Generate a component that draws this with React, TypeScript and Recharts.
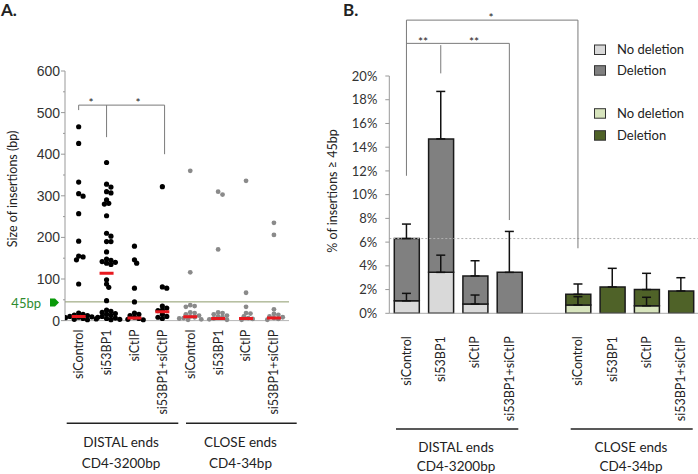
import React from 'react';
import {
  ScatterChart, Scatter, XAxis, YAxis, ReferenceLine,
  ComposedChart, Bar, Cell, ErrorBar,
} from 'recharts';

// ---------------- Panel A data ----------------
const groupNames = ['siControl', 'si53BP1', 'siCtIP', 'si53BP1+siCtIP'];
const panelACategories = [...groupNames, ...groupNames];

const distalSiControl = [466, 426, 333, 305, 299, 257, 191, 155, 153, 146, 88, 18, 15, 13, 12, 10, 9, 8, 7, 5, 4, 3, 2];
const distalSi53BP1 = [380, 328, 321, 310, 307, 290, 282, 280, 252, 210, 203, 190, 190, 165, 148, 145, 142, 140, 138, 135, 98, 88, 80, 48, 25, 22, 20, 17, 15, 12, 10, 8, 6, 5, 3, 2];
const distalSiCtIP = [179, 146, 138, 78, 45, 18, 15, 12, 8, 5, 3, 2];
const distalCombo = [322, 81, 78, 35, 30, 25, 24, 15, 10, 8, 5];
const closeSiControl = [360, 116, 37, 35, 33, 20, 18, 15, 12, 10, 8, 6, 5, 3, 2];
const closeSi53BP1 = [310, 303, 171, 20, 18, 15, 12, 10, 8, 5, 3, 2];
const closeSiCtIP = [336, 67, 33, 18, 17, 10, 6, 4, 2];
const closeCombo = [235, 206, 27, 16, 14, 10, 8, 6, 4, 2];
const panelAMedians = [10, 114, 6, 21, 9, 5, 5, 6];
const panelATicks = [0, 50, 100, 150, 200, 250, 300, 350, 400, 450, 500, 550, 600];
const thresholdBp = 45;

// ---------------- Panel B data ----------------
const panelBKeys = ['d0', 'd1', 'd2', 'd3', 'gap', 'c0', 'c1', 'c2', 'c3'];
const panelBLabels = ['siControl', 'si53BP1', 'siCtIP', 'si53BP1+siCtIP', '', 'siControl', 'si53BP1', 'siCtIP', 'si53BP1+siCtIP'];
const noDeletion = [1.05, 3.45, 0.78, 0, null, 0.7, 0, 0.64, 0];
const deletion = [5.25, 11.25, 2.37, 3.45, null, 0.9, 2.22, 1.36, 1.88];
const totalError = [1.22, 4.0, 1.28, 3.45, null, 0.87, 1.57, 1.37, 1.12];
const noDeletionError = [0.63, 1.45, 0.76, null, null, 0.7, null, 0.71, null];
const panelBTicks = [0, 2, 4, 6, 8, 10, 12, 14, 16, 18, 20];
const referenceLevel = 6.3;
const legendLabels = ['No deletion', 'Deletion', 'No deletion', 'Deletion'];

// ---------------- styles ----------------
const LIGHT_GRAY = '#d9d9d9';
const DARK_GRAY = '#808080';
const LIGHT_GREEN = '#d7e4bd';
const DARK_GREEN = '#4f6228';
const legendColors = [LIGHT_GRAY, DARK_GRAY, LIGHT_GREEN, DARK_GREEN];
const FONT = 'Lato, "Open Sans", sans-serif';

// Panel A geometry (for beeswarm spacing)
const A_TOP = 71;
const A_BOTTOM = 320.6;
const A_AXIS = 65;
const A_RIGHT = 289;
const A_DOMAIN: [number, number] = [-0.49, 7.54];
const pxPerY = (A_BOTTOM - A_TOP) / 600;
const pxPerX = (A_RIGHT - A_AXIS) / (A_DOMAIN[1] - A_DOMAIN[0]);

function swarm(values: number[], idx: number) {
  const placed: { x: number; y: number }[] = [];
  const out: { x: number; y: number }[] = [];
  const sorted = [...values].sort((a, b) => b - a);
  const step = 2.2;
  const minD = 3.8;
  for (const v of sorted) {
    const py = v * pxPerY;
    let chosen = 0;
    for (let k = 0; k < 60; k++) {
      const off = k === 0 ? 0 : (k % 2 === 1 ? 1 : -1) * Math.ceil(k / 2) * step;
      const ok = placed.every((p) => (p.x - off) ** 2 + (p.y - py) ** 2 >= minD * minD);
      if (ok) { chosen = off; break; }
    }
    placed.push({ x: chosen, y: py });
    out.push({ x: idx + chosen / pxPerX, y: v });
  }
  return out;
}

const distalPoints = [distalSiControl, distalSi53BP1, distalSiCtIP, distalCombo].flatMap((vals, i) => swarm(vals, i));
const closePoints = [closeSiControl, closeSi53BP1, closeSiCtIP, closeCombo].flatMap((vals, i) => swarm(vals, i + 4));
const medianPoints = panelAMedians.map((m, i) => ({ x: i, y: m }));

const rowsB = panelBKeys.map((key, i) => ({
  key,
  label: panelBLabels[i],
  noDel: noDeletion[i],
  del: deletion[i],
  total: noDeletion[i] == null ? null : (noDeletion[i] as number) + (deletion[i] as number),
  totalErr: totalError[i] == null ? null : [0, totalError[i]],
  noDelErr: noDeletionError[i] == null ? null : [0, noDeletionError[i]],
}));

// ---------------- tick components ----------------
const ATickY = (props: any) => {
  const { x, y, payload } = props;
  const v = payload.value;
  const major = v % 100 === 0;
  return (
    <g>
      <line x1={major ? x + 1 : x + 3} x2={x + 5} y1={y} y2={y} stroke="#999" strokeWidth={1} />
      {major && (
        <text x={x} y={y} dy="0.35em" textAnchor="end" fontSize={14} fontFamily='"Liberation Sans", Arial, sans-serif' fill="#333">
          {v}
        </text>
      )}
    </g>
  );
};

const ATickX = (props: any) => {
  const { x, y, payload } = props;
  const label = panelACategories[payload.value] ?? '';
  return (
    <text transform={`rotate(-90 ${x} ${y})`} x={x} y={y} dy="0.35em" textAnchor="end" fontSize={12.5} fontFamily={FONT} fill="#222">
      {label}
    </text>
  );
};

const BTickX = (props: any) => {
  const { x, y, payload } = props;
  const i = panelBKeys.indexOf(payload.value);
  const label = i >= 0 ? panelBLabels[i] : '';
  return (
    <text transform={`rotate(-90 ${x} ${y})`} x={x} y={y} dy="0.35em" textAnchor="end" fontSize={12.5} fontFamily={FONT} fill="#222">
      {label}
    </text>
  );
};

const blackDot = (p: any) => <circle cx={p.cx} cy={p.cy} r={2.6} fill="#000" />;
const grayDot = (p: any) => <circle cx={p.cx} cy={p.cy} r={2.4} fill="#8a8a8a" />;
const medianMark = (p: any) => (
  <line x1={p.cx - 7} x2={p.cx + 7} y1={p.cy} y2={p.cy} stroke="#e8191f" strokeWidth={3} />
);
const noShape = () => <g />;

const bracketStroke = '#7a7a7a';

function PanelA() {
  return (
    <ScatterChart
      width={320}
      height={474}
      margin={{ top: A_TOP, right: 320 - A_RIGHT, left: 0, bottom: 474 - A_BOTTOM - 100 }}
    >
      <XAxis
        type="number"
        dataKey="x"
        domain={A_DOMAIN}
        ticks={[0, 1, 2, 3, 4, 5, 6, 7]}
        interval={0}
        allowDataOverflow
        height={100}
        tickLine={false}
        tickSize={0}
        tickMargin={9}
        axisLine={{ stroke: '#b5b5b5' }}
        tick={<ATickX />}
      />
      <YAxis
        type="number"
        dataKey="y"
        domain={[0, 600]}
        ticks={panelATicks}
        interval={0}
        width={A_AXIS}
        tickLine={false}
        tickSize={4}
        tickMargin={1}
        axisLine={{ stroke: '#999' }}
        tick={<ATickY />}
      />
      <ReferenceLine y={thresholdBp} stroke="#8c9a6a" strokeWidth={1} />
      <Scatter data={distalPoints} shape={blackDot} isAnimationActive={false} />
      <Scatter data={closePoints} shape={grayDot} isAnimationActive={false} />
      <Scatter data={medianPoints} shape={medianMark} isAnimationActive={false} />
      {/* significance brackets */}
      <ReferenceLine segment={[{ x: 0, y: 518 }, { x: 3.08, y: 518 }]} stroke={bracketStroke} />
      <ReferenceLine segment={[{ x: 0, y: 518 }, { x: 0, y: 506 }]} stroke={bracketStroke} />
      <ReferenceLine segment={[{ x: 1, y: 518 }, { x: 1, y: 441 }]} stroke={bracketStroke} />
      <ReferenceLine segment={[{ x: 3.08, y: 518 }, { x: 3.08, y: 400 }]} stroke={bracketStroke} />
    </ScatterChart>
  );
}

function PanelB() {
  return (
    <ComposedChart
      width={378}
      height={474}
      data={rowsB}
      margin={{ top: 76, right: 0, left: 0, bottom: 474 - 313.3 - 110 }}
      barSize={25}
    >
      <XAxis
        dataKey="key"
        type="category"
        height={110}
        interval={0}
        tickLine={false}
        tickSize={0}
        tickMargin={23}
        axisLine={{ stroke: '#aaa' }}
        tick={<BTickX />}
      />
      <YAxis
        type="number"
        domain={[0, 20]}
        ticks={panelBTicks}
        interval={0}
        width={69.3}
        tickSize={4}
        tickMargin={8}
        tickLine={{ stroke: '#999' }}
        axisLine={{ stroke: '#999' }}
        tickFormatter={(v: number) => `${v}%`}
        tick={{ fontSize: 13, fill: '#333', fontFamily: FONT }}
      />
      <ReferenceLine y={referenceLevel} stroke="#b0b0b0" strokeDasharray="2 2" />
      <Bar dataKey="noDel" stackId="s" isAnimationActive={false} stroke="#1a1a1a" strokeWidth={1.5}>
        {rowsB.map((r, i) => (
          <Cell key={r.key} fill={i < 4 ? LIGHT_GRAY : LIGHT_GREEN} />
        ))}
      </Bar>
      <Bar dataKey="del" stackId="s" isAnimationActive={false} stroke="#1a1a1a" strokeWidth={1.5}>
        {rowsB.map((r, i) => (
          <Cell key={r.key} fill={i < 4 ? DARK_GRAY : DARK_GREEN} />
        ))}
      </Bar>
      <Scatter dataKey="total" shape={noShape} isAnimationActive={false}>
        <ErrorBar dataKey="totalErr" direction="y" width={4.5} stroke="#111" strokeWidth={1.5} />
      </Scatter>
      <Scatter dataKey="noDel" shape={noShape} isAnimationActive={false}>
        <ErrorBar dataKey="noDelErr" direction="y" width={4.5} stroke="#111" strokeWidth={1.5} />
      </Scatter>
      {/* significance brackets */}
      <ReferenceLine ifOverflow="visible" segment={[{ x: 'd0', y: 24.71 }, { x: 'c0', y: 24.71 }]} stroke={bracketStroke} />
      <ReferenceLine ifOverflow="visible" segment={[{ x: 'd0', y: 24.71 }, { x: 'd0', y: 11.59 }]} stroke={bracketStroke} />
      <ReferenceLine ifOverflow="visible" segment={[{ x: 'c0', y: 24.71 }, { x: 'c0', y: 5.48 }]} stroke={bracketStroke} />
      <ReferenceLine ifOverflow="visible" segment={[{ x: 'd0', y: 22.75 }, { x: 'd3', y: 22.75 }]} stroke={bracketStroke} />
      <ReferenceLine ifOverflow="visible" segment={[{ x: 'd1', y: 22.6 }, { x: 'd1', y: 20.22 }]} stroke={bracketStroke} />
      <ReferenceLine ifOverflow="visible" segment={[{ x: 'd3', y: 22.75 }, { x: 'd3', y: 7.86 }]} stroke={bracketStroke} />
    </ComposedChart>
  );
}

function Overlay() {
  const t = { fontFamily: FONT, fill: '#222' } as const;
  return (
    <svg width={698} height={474} style={{ position: 'absolute', left: 0, top: 0, pointerEvents: 'none' }}>
      <text x={1} y={16} fontSize={17} fontWeight="bold" {...t}>A.</text>
      <text x={343} y={16} fontSize={17} fontWeight="bold" {...t}>B.</text>

      <text transform="rotate(-90 13 189)" x={13} y={189} dy="0.35em" textAnchor="middle" fontSize={12.5} {...t}>
        Size of insertions (bp)
      </text>
      <text transform="rotate(-90 333 191)" x={333} y={191} dy="0.35em" textAnchor="middle" fontSize={12.5} {...t}>
        % of insertions ≥ 45bp
      </text>

      {/* 45bp marker */}
      <text x={41} y={307.5} textAnchor="end" fontSize={13} fontFamily={FONT} fill="#2e8b2e">45bp</text>
      <polygon points="50,298.5 55,298.5 59,302.5 55,306.5 50,306.5" fill="#0a9a0a" />

      {/* stars */}
      <text x={91} y={107} textAnchor="middle" fontSize={12} {...t}>*</text>
      <text x={138} y={107} textAnchor="middle" fontSize={12} {...t}>*</text>
      <text x={491} y={22} textAnchor="middle" fontSize={12} {...t}>*</text>
      <text x={423} y={46} textAnchor="middle" fontSize={12} {...t}>**</text>
      <text x={474} y={46} textAnchor="middle" fontSize={12} {...t}>**</text>

      {/* group annotations A */}
      <line x1={66.7} x2={178.3} y1={423.3} y2={423.3} stroke="#222" strokeWidth={1.5} />
      <line x1={186} x2={296.7} y1={423.3} y2={423.3} stroke="#222" strokeWidth={1.5} />
      <text x={121} y={446.7} textAnchor="middle" fontSize={13.5} {...t}>DISTAL ends</text>
      <text x={121} y={467.5} textAnchor="middle" fontSize={13.5} {...t}>CD4-3200bp</text>
      <text x={240.5} y={446.7} textAnchor="middle" fontSize={13.5} {...t}>CLOSE ends</text>
      <text x={240.5} y={467.5} textAnchor="middle" fontSize={13.5} {...t}>CD4-34bp</text>

      {/* group annotations B */}
      <line x1={396} x2={518.3} y1={429} y2={429} stroke="#222" strokeWidth={1.5} />
      <line x1={570.7} x2={692.7} y1={429} y2={429} stroke="#222" strokeWidth={1.5} />
      <text x={456} y={451.7} textAnchor="middle" fontSize={13.5} {...t}>DISTAL ends</text>
      <text x={456} y={471} textAnchor="middle" fontSize={13.5} {...t}>CD4-3200bp</text>
      <text x={631} y={451.7} textAnchor="middle" fontSize={13.5} {...t}>CLOSE ends</text>
      <text x={631} y={471} textAnchor="middle" fontSize={13.5} {...t}>CD4-34bp</text>

      {/* legend */}
      {legendLabels.map((lab, i) => {
        const top = [45, 65.7, 108.7, 130.7][i];
        return (
          <g key={i}>
            <rect x={594.5} y={top} width={11} height={9.5} fill={legendColors[i]} stroke="#333" strokeWidth={1} />
            <text x={617} y={top + 9} fontSize={13} {...t}>{lab}</text>
          </g>
        );
      })}
    </svg>
  );
}

export default function App() {
  return (
    <div style={{ position: 'absolute', left: 0, top: 0, width: 698, height: 474, background: '#fff', fontFamily: FONT }}>
      <div style={{ position: 'absolute', left: 0, top: 0 }}>
        <PanelA />
      </div>
      <div style={{ position: 'absolute', left: 320, top: 0 }}>
        <PanelB />
      </div>
      <Overlay />
    </div>
  );
}
